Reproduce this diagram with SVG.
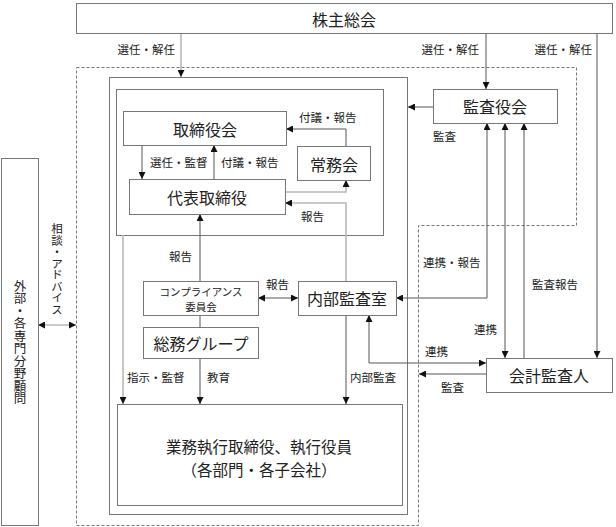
<svg xmlns="http://www.w3.org/2000/svg" width="616" height="527" viewBox="0 0 616 527">
<style>
.b{fill:#fff;stroke:#777;stroke-width:1}
.nb{fill:none;stroke:#777;stroke-width:1}
text{font-family:"Noto Sans CJK JP","Noto Sans",sans-serif;fill:#222}
.L{font-size:16px;text-anchor:middle;dominant-baseline:central}
.s{font-size:11.5px}
.m{text-anchor:middle;dominant-baseline:central}
.ln{fill:none;stroke:#555;stroke-width:1}
.g{fill:none;stroke:#b8b8b8;stroke-width:1.6}
.d{fill:none;stroke:#777;stroke-width:1;stroke-dasharray:3 2}
</style>
<defs>
<marker id="a" viewBox="0 0 8 8" refX="8" refY="4" markerWidth="7" markerHeight="7" markerUnits="userSpaceOnUse" orient="auto-start-reverse"><path d="M0,0 L8,4 L0,8 z" fill="#111"/></marker>
</defs>
<rect width="616" height="527" fill="#fff"/>
<g id="dashed-area"><path class="d" d="M76.5,67.5 H576.5 V225.5 H418.5 V525.5 H76.5 Z"/></g>
<g id="outer-frame"><rect class="nb" x="109.5" y="77.5" width="298" height="437"/></g>
<g id="board-frame"><rect class="nb" x="116.5" y="89.5" width="267" height="146"/></g>

<g id="connectors">
<path class="g" d="M181,33 V77" marker-end="url(#a)"/>
<path class="ln" d="M486,33 V89" marker-end="url(#a)"/>
<path class="ln" d="M597,33 V358" marker-end="url(#a)"/>
<path class="ln" d="M142,145 V179" marker-end="url(#a)"/>
<path class="ln" d="M214,179 V145" marker-end="url(#a)"/>
<path class="ln" d="M346,146 V129 H286" marker-end="url(#a)"/>
<path class="g" d="M285,192 H346 V180" marker-end="url(#a)"/>
<path class="g" d="M346,281 V203 H285" marker-end="url(#a)"/>
<path class="ln" d="M200,281 V214" marker-end="url(#a)"/>
<path class="ln" d="M200,315 V327"/>
<path class="ln" d="M258,298 H298" marker-start="url(#a)" marker-end="url(#a)"/>
<path class="ln" d="M396,298 H487 V123" marker-start="url(#a)" marker-end="url(#a)"/>
<path class="ln" d="M505,123 V358" marker-start="url(#a)" marker-end="url(#a)"/>
<path class="ln" d="M524,358 V123" marker-end="url(#a)"/>
<path class="ln" d="M433,107 H408" marker-end="url(#a)"/>
<path class="ln" d="M369,315 V363 H486" marker-start="url(#a)" marker-end="url(#a)"/>
<path class="ln" d="M486,374 H419" marker-end="url(#a)"/>
<path class="g" d="M123,235 V404" marker-end="url(#a)"/>
<path class="ln" d="M200,358 V404" marker-end="url(#a)"/>
<path class="ln" d="M346,315 V404" marker-end="url(#a)"/>
<path class="g" d="M38,325 H76" marker-start="url(#a)" marker-end="url(#a)"/>
</g>

<g id="labels" class="s">
<text x="175" y="54" text-anchor="end">選任・解任</text>
<text x="479" y="54" text-anchor="end">選任・解任</text>
<text x="592" y="54" text-anchor="end">選任・解任</text>
<text x="299" y="122">付議・報告</text>
<text x="150" y="167">選任・監督</text>
<text x="221" y="167">付議・報告</text>
<text x="301" y="221">報告</text>
<text x="433" y="141">監査</text>
<text x="169" y="261">報告</text>
<text x="266" y="289">報告</text>
<text x="423" y="267">連携・報告</text>
<text x="532" y="289">監査報告</text>
<text x="474" y="334">連携</text>
<text x="425" y="356">連携</text>
<text x="441" y="392">監査</text>
<text x="127" y="382">指示・監督</text>
<text x="207" y="382">教育</text>
<text x="350" y="382">内部監査</text>
<text x="57" y="269" class="m" style="writing-mode:vertical-rl;text-orientation:upright;font-size:11.5px">相談・アドバイス</text>
</g>

<g id="shareholders"><rect class="b" x="76.5" y="3.5" width="536" height="30"/><text class="L" x="344" y="19">株主総会</text></g>
<g id="board"><rect class="b" x="123.5" y="111.5" width="163" height="34"/><text class="L" x="205" y="129">取締役会</text></g>
<g id="representative"><rect class="b" x="129.5" y="179.5" width="156" height="35"/><text class="L" x="207" y="197">代表取締役</text></g>
<g id="executive-committee"><rect class="b" x="297.5" y="146.5" width="73" height="34"/><text class="L" x="334" y="164">常務会</text></g>
<g id="audit-board"><rect class="b" x="433.5" y="89.5" width="124" height="34"/><text class="L" x="495" y="106">監査役会</text></g>
<g id="compliance"><rect class="b" x="143.5" y="281.5" width="115" height="34"/><text class="m" x="201" y="291" style="font-size:10.5px">コンプライアンス</text><text class="m" x="201" y="306.5" style="font-size:10.5px">委員会</text></g>
<g id="general-affairs"><rect class="b" x="143.5" y="327.5" width="115" height="31"/><text class="L" x="201" y="343">総務グループ</text></g>
<g id="internal-audit"><rect class="b" x="298.5" y="281.5" width="98" height="34"/><text class="L" x="347" y="298">内部監査室</text></g>
<g id="accounting-auditor"><rect class="b" x="486.5" y="358.5" width="126" height="34"/><text class="L" x="549" y="375">会計監査人</text></g>
<g id="business-execution"><rect class="b" x="117.5" y="404.5" width="285" height="101"/><text class="L" x="259" y="446" style="font-size:15.5px">業務執行取締役、執行役員</text><text class="L" x="259" y="468.5" style="font-size:15.5px">（各部門・各子会社）</text></g>
<g id="external-advisors"><rect class="b" x="1.5" y="158.5" width="37" height="367"/><text class="m" x="20" y="342" style="writing-mode:vertical-rl;text-orientation:upright;font-size:12.5px">外部・各専門分野顧問</text></g>
</svg>
